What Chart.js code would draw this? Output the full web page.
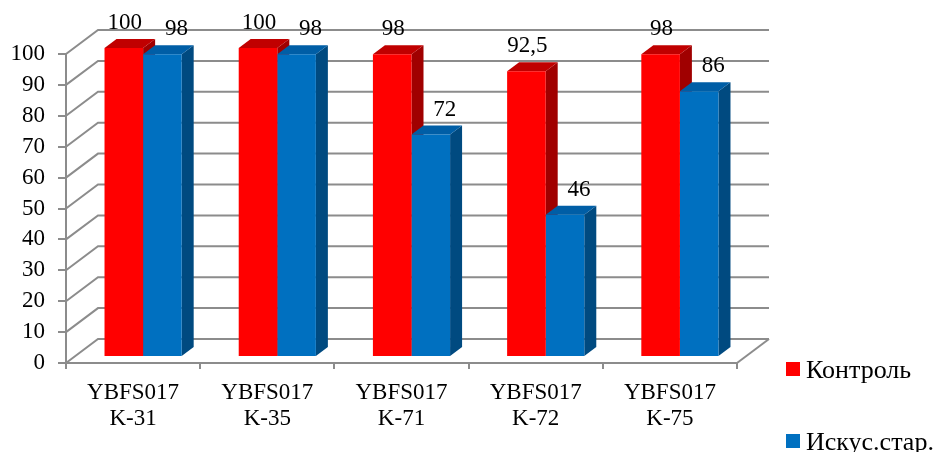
<!DOCTYPE html>
<html>
<head>
<meta charset="utf-8">
<script src="https://cdn.jsdelivr.net/npm/chart.js@4"></script>
<style>
html,body{margin:0;padding:0;background:#fff;}
#wrap{width:935px;height:452px;position:relative;}
</style>
</head>
<body>
<div id="wrap"><canvas id="c" width="935" height="452"></canvas></div>
<script>
const categories = [["YBFS017","K-31"],["YBFS017","K-35"],["YBFS017","K-71"],["YBFS017","K-72"],["YBFS017","K-75"]];
const seriesLabels = ["Контроль","Искус.стар."];
const controlValues = [100,100,98,92.5,98];
const agingValues = [98,98,72,46,86];
const yMin = 0, yMax = 100, yStep = 10;

const FONT = '"Liberation Serif", "Times New Roman", serif';
const GRID = '#8c8c8c';
const BACK_DX = 32, BACK_DY = -24;   // back wall offset
const BAR_DX = 10, BAR_DY = -6;      // bar front-face offset
const DEPTH_DX = 12, DEPTH_DY = -9;  // bar depth
const faceColors = [
  {front:'#FF0000', top:'#C00000', side:'#A00000'},
  {front:'#0070C0', top:'#005EA6', side:'#004A80'}
];
const labelShift = [1, 14];

const threeD = {
  id:'threeD',
  beforeDatasetsDraw(chart){
    const ctx = chart.ctx, ys = chart.scales.y, ca = chart.chartArea;
    ctx.save();
    ctx.strokeStyle = GRID; ctx.lineWidth = 2; ctx.lineCap='butt';
    ys.ticks.forEach(t=>{
      const py = ys.getPixelForValue(t.value);
      ctx.beginPath();
      ctx.moveTo(ca.left, py);
      ctx.lineTo(ca.left+BACK_DX, py+BACK_DY);
      ctx.lineTo(ca.right+BACK_DX, py+BACK_DY);
      ctx.stroke();
    });
    const p0 = ys.getPixelForValue(yMin);
    ctx.beginPath();
    ctx.moveTo(ca.right, p0);
    ctx.lineTo(ca.right+BACK_DX, p0+BACK_DY);
    ctx.stroke();
    ctx.restore();
    ctx.save();
    ctx.translate(BAR_DX, BAR_DY);
    chart.data.datasets.forEach((ds,i)=>{
      const meta = chart.getDatasetMeta(i);
      const c = faceColors[i];
      meta.data.forEach(el=>{
        const p = el.getProps(['x','y','base','width'], true);
        const l = p.x - p.width/2, r = p.x + p.width/2;
        ctx.fillStyle = c.side;
        ctx.beginPath();
        ctx.moveTo(r, p.y); ctx.lineTo(r+DEPTH_DX, p.y+DEPTH_DY);
        ctx.lineTo(r+DEPTH_DX, p.base+DEPTH_DY); ctx.lineTo(r, p.base);
        ctx.closePath(); ctx.fill();
        ctx.fillStyle = c.top;
        ctx.beginPath();
        ctx.moveTo(l, p.y); ctx.lineTo(l+DEPTH_DX, p.y+DEPTH_DY);
        ctx.lineTo(r+DEPTH_DX, p.y+DEPTH_DY); ctx.lineTo(r, p.y);
        ctx.closePath(); ctx.fill();
      });
    });
  },
  afterDatasetsDraw(chart){
    const ctx = chart.ctx;
    ctx.restore();
    ctx.save();
    ctx.font = '23px ' + FONT;
    ctx.fillStyle = '#000';
    ctx.textAlign = 'center';
    ctx.textBaseline = 'middle';
    chart.data.datasets.forEach((ds,i)=>{
      const meta = chart.getDatasetMeta(i);
      meta.data.forEach((el,j)=>{
        const p = el.getProps(['x','y'], true);
        const txt = String(ds.data[j]).replace('.', ',');
        ctx.fillText(txt, p.x + BAR_DX + labelShift[i], p.y + BAR_DY - 25);
      });
    });
    // legend
    ctx.textAlign = 'left';
    ctx.font = '26px ' + FONT;
    chart.data.datasets.forEach((ds,i)=>{
      const ly = 369 + i*72;
      ctx.fillStyle = ds.backgroundColor;
      ctx.fillRect(786, ly-7, 14, 14);
      ctx.fillStyle = '#000';
      ctx.fillText(ds.label, 806, ly+2);
    });
    ctx.restore();
  }
};

new Chart(document.getElementById('c'), {
  type:'bar',
  data:{
    labels: categories,
    datasets:[
      {label: seriesLabels[0], data: controlValues, backgroundColor: faceColors[0].front, borderWidth:0},
      {label: seriesLabels[1], data: agingValues, backgroundColor: faceColors[1].front, borderWidth:0}
    ]
  },
  options:{
    responsive:false,
    animation:false,
    events:[],
    devicePixelRatio:1,
    layout:{padding:{top:54, right:198, left:0, bottom:0}},
    datasets:{bar:{categoryPercentage:0.575, barPercentage:1, clip:false}},
    plugins:{legend:{display:false}, tooltip:{enabled:false}},
    scales:{
      x:{
        grid:{display:true, offset:true, drawOnChartArea:false, drawTicks:true, tickLength:6, color:GRID, lineWidth:2},
        border:{display:true, color:GRID, width:2},
        ticks:{font:{family:FONT, size:23, lineHeight:1.13}, color:'#000', padding:11, maxRotation:0, autoSkip:false},
        afterFit(s){ s.height = 89; }
      },
      y:{
        min:yMin, max:yMax,
        grid:{display:true, drawOnChartArea:false, drawTicks:true, tickLength:8, color:GRID, lineWidth:2},
        border:{display:true, color:GRID, width:2},
        ticks:{stepSize:yStep, font:{family:FONT, size:23}, color:'#000', padding:13},
        afterFit(s){ s.width = 66; }
      }
    }
  },
  plugins:[threeD]
});
</script>
</body>
</html>
